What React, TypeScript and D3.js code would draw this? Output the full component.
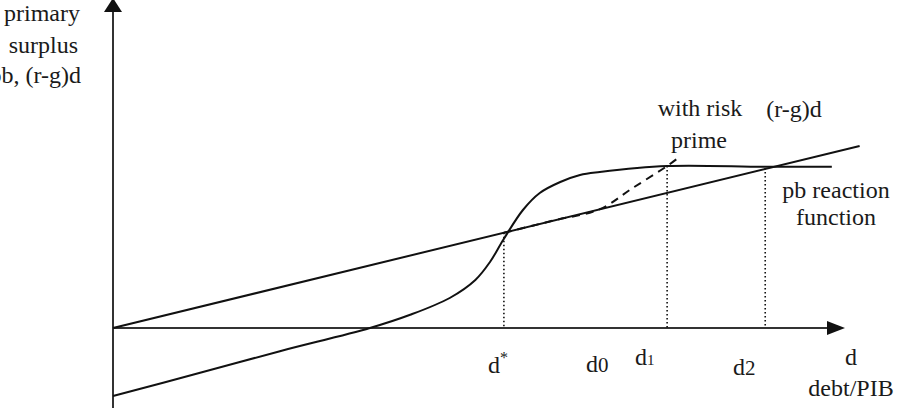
import * as d3 from "d3";

// abstract debt axis (d) and primary balance axis (pb)
const lineD = [0, 10.2];
const lineV = [0, 4.55];

const reactionD = [0, 1.19, 2.28, 3.51, 4.06, 4.6, 4.95, 5.15, 5.33, 5.6, 5.83, 6.11, 6.38, 6.65, 7.57, 8.91, 9.82];
const reactionV = [-1.7, -1.12, -0.58, 0, 0.33, 0.75, 1.2, 1.65, 2.2, 2.95, 3.375, 3.65, 3.825, 3.9, 4.05, 4.03, 4.03];

const riskD = [5.34, 6.0, 6.65, 7.1, 7.57, 7.72];
const riskV = [2.38, 2.68, 2.97, 3.5, 4.05, 4.25];

const markNames = ["d*", "d1", "d2"];
const markD = [5.34, 7.57, 8.91];
const markV = [2.38, 4.05, 4.0];

const W = 908;
const H = 416;
const font = "'Liberation Serif', 'Times New Roman', serif";

export default function App() {
  const x = d3.scaleLinear().domain([0, 10]).range([113, 845]);
  const y = d3.scaleLinear().domain([-2, 8.2]).range([408, 0]);

  const line = d3
    .line<[number, number]>()
    .x((p) => x(p[0]))
    .y((p) => y(p[1]));
  const curve = d3
    .line<[number, number]>()
    .x((p) => x(p[0]))
    .y((p) => y(p[1]))
    .curve(d3.curveCatmullRom.alpha(0.5));

  const rg = lineD.map((d, i) => [d, lineV[i]] as [number, number]);
  const reaction = reactionD.map((d, i) => [d, reactionV[i]] as [number, number]);
  const risk = riskD.map((d, i) => [d, riskV[i]] as [number, number]);

  const x0 = x(0);
  const y0 = y(0);
  const ink = "#111";

  return (
    <svg
      width={W}
      height={H}
      style={{ position: "absolute", left: 0, top: 0, background: "#fff" }}
      fontFamily={font}
      fontSize={24}
      fill="#1a1a1a"
    >
      {/* axes */}
      <line x1={x0} y1={y(-2)} x2={x0} y2={4} stroke="#333" strokeWidth={2} />
      <path d={`M${x0 - 9},12 L${x0},-2 L${x0 + 9},12 Z`} fill={ink} />
      <line x1={x0} y1={y0} x2={x(10) - 12} y2={y0} stroke="#333" strokeWidth={2} />
      <path d={`M${x(10) - 18},${y0 - 7} L${x(10)},${y0} L${x(10) - 18},${y0 + 7} Z`} fill={ink} />

      {/* dotted guides */}
      {markD.map((d, i) => (
        <line
          key={markNames[i]}
          x1={x(d)}
          y1={y(markV[i])}
          x2={x(d)}
          y2={y0}
          stroke={ink}
          strokeWidth={1.6}
          strokeDasharray="1.5,2.5"
        />
      ))}

      <path d={line(rg) ?? ""} fill="none" stroke={ink} strokeWidth={2} />
      <path d={curve(reaction) ?? ""} fill="none" stroke={ink} strokeWidth={2} />
      <path
        d={curve(risk) ?? ""}
        fill="none"
        stroke={ink}
        strokeWidth={2}
        strokeDasharray="8,6"
      />

      {/* y label (cut at the left edge, as in the source figure) */}
      <g textAnchor="end">
        <text x={80} y={21}>primary</text>
        <text x={78} y={53}>surplus</text>
        <text x={81} y={83}>pb, (r-g)d</text>
      </g>

      {/* curve labels */}
      <g textAnchor="middle">
        <text x={700} y={116}>with risk</text>
        <text x={699} y={148}>prime</text>
        <text x={794} y={117}>(r-g)d</text>
        <text x={836} y={198}>pb reaction</text>
        <text x={836} y={225}>function</text>
      </g>

      {/* x labels */}
      <text x={488} y={373}>
        d<tspan dy={-10} fontSize={16}>*</tspan>
      </text>
      <text x={586} y={372}>
        d<tspan fontSize={21}>0</tspan>
      </text>
      <text x={635} y={365}>
        d<tspan fontSize={15}>1</tspan>
      </text>
      <text x={733} y={375}>
        d<tspan fontSize={21}>2</tspan>
      </text>
      <text x={851} y={365} textAnchor="middle">d</text>
      <text x={851} y={396} textAnchor="middle">debt/PIB</text>
    </svg>
  );
}
